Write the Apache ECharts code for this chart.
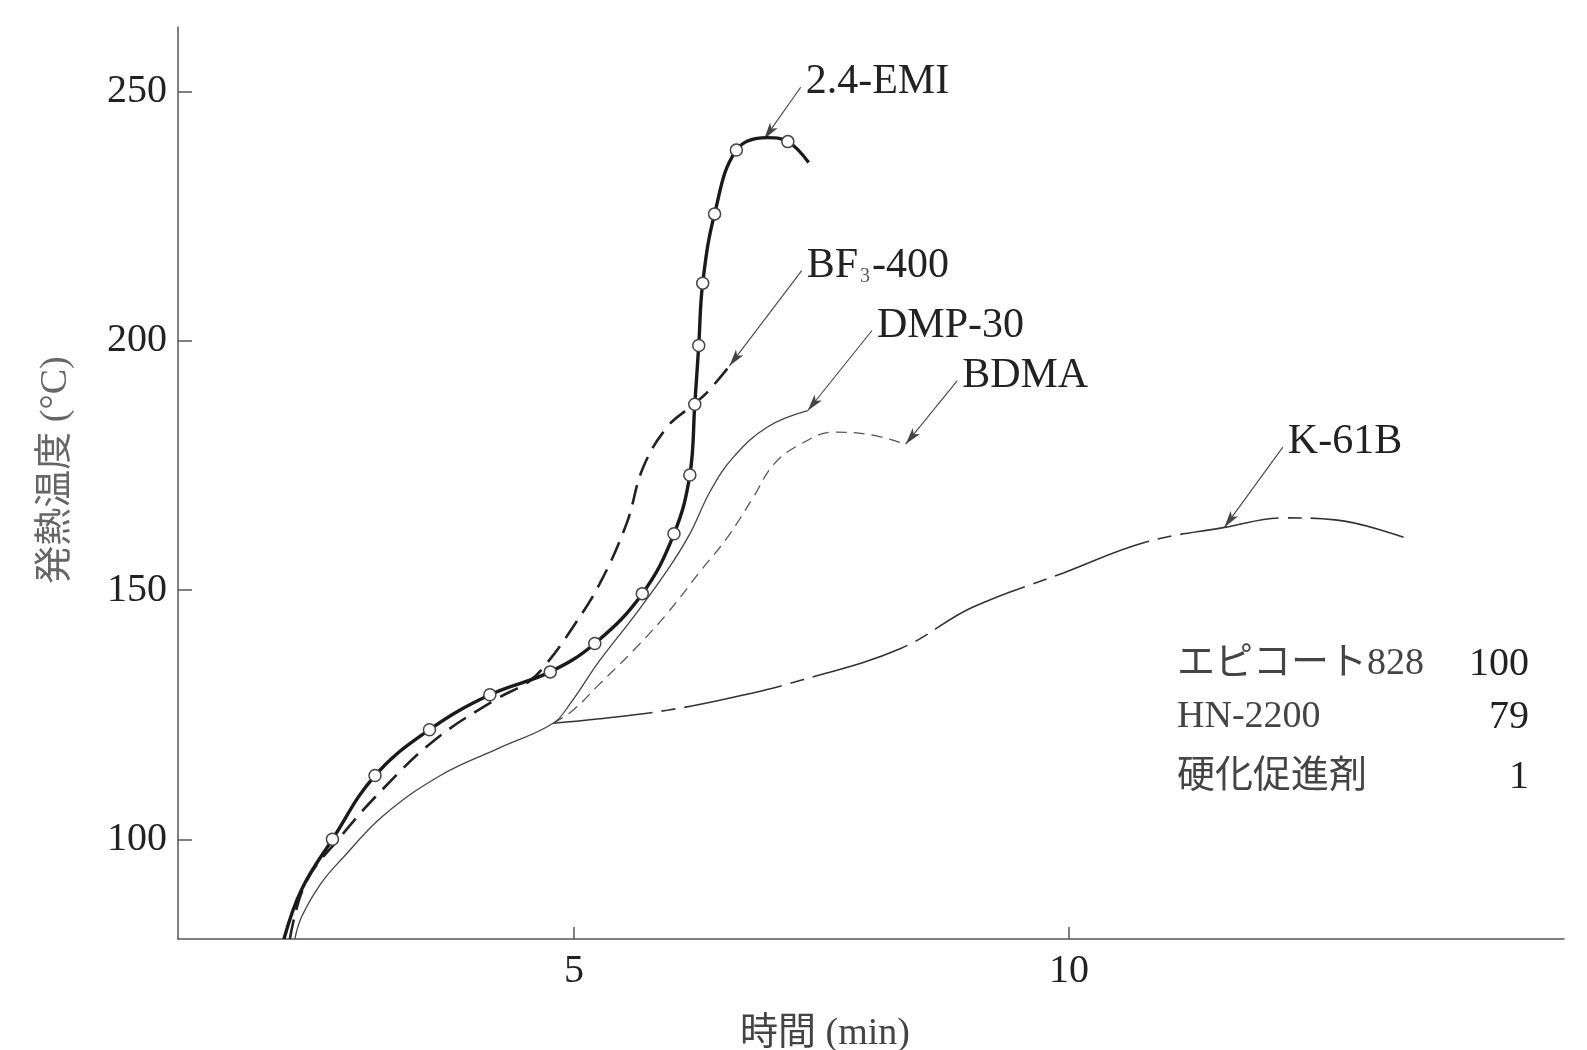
<!DOCTYPE html>
<html>
<head>
<meta charset="utf-8">
<script src="https://cdn.jsdelivr.net/npm/echarts@6/dist/echarts.min.js"></script>
<style>
  html, body { margin: 0; padding: 0; background: #ffffff; }
  #chart { width: 1587px; height: 1050px; }
</style>
</head>
<body>
<div id="chart"></div>
<script>
// Exotherm curves of an epoxy system with different accelerators: time (min) vs. temperature (°C)

// 2.4-EMI: curve points and the measured points drawn as open circles
const emiCurve = [
  [2.07, 80], [2.25, 90], [2.56, 100], [2.99, 112.8], [3.54, 122.0], [4.15, 129.0],
  [4.76, 133.6], [5.21, 139.3], [5.69, 149.3], [6.01, 161.3], [6.17, 173.1],
  [6.22, 187.3], [6.26, 199.1], [6.30, 211.6], [6.42, 225.5], [6.64, 238.3],
  [6.95, 240.8], [7.16, 240.0], [7.37, 235.8]
];
const emiMarkers = [
  [2.56, 100], [2.99, 112.8], [3.54, 122.0], [4.15, 129.0], [4.76, 133.6],
  [5.21, 139.3], [5.69, 149.3], [6.01, 161.3], [6.17, 173.1], [6.22, 187.3],
  [6.26, 199.1], [6.30, 211.6], [6.42, 225.5], [6.64, 238.3], [7.16, 240.0]
];
const bf3Curve = [
  [2.13, 80], [2.29, 91.3], [2.62, 100], [3.07, 110.1], [3.61, 120.2], [4.23, 128.3],
  [4.54, 131.6], [4.72, 135.2], [4.99, 142.6], [5.26, 151.3], [5.53, 163.3],
  [5.70, 174.7], [5.94, 182.7], [6.17, 186.7], [6.34, 189.6], [6.57, 195.0]
];
const dmpCurve = [
  [2.18, 80], [2.25, 84.5], [2.45, 91.3], [2.68, 96.6], [3.07, 104.7], [3.65, 112.8],
  [4.23, 118.2], [4.79, 123.3], [4.96, 127.2], [5.26, 135.9], [5.60, 144.6],
  [5.94, 153.9], [6.17, 161.3], [6.38, 170.0], [6.61, 176.7], [6.95, 182.7], [7.36, 186.0]
];
const bdmaCurve = [
  [4.79, 123.3], [4.99, 125.9], [5.26, 131.2], [5.60, 137.9], [5.94, 145.3],
  [6.28, 153.9], [6.55, 160.6], [6.81, 168.6], [7.02, 175.3], [7.29, 179.3],
  [7.62, 181.7], [7.96, 181.3], [8.35, 179.3]
];
const k61bCurve = [
  [4.79, 123.3], [5.26, 124.2], [5.94, 125.9], [6.61, 128.5], [7.29, 131.9],
  [8.30, 138.3], [9.02, 146.5], [9.95, 153.5], [10.77, 159.6], [11.57, 162.6],
  [12.18, 164.5], [12.69, 164.1], [13.38, 160.6]
];

const xTicks = [5, 10];
const yTicks = [100, 150, 200, 250];

// Formulation (parts by weight)
const recipeNames = ['エピコート828', 'HN-2200', '硬化促進剤'];
const recipeParts = ['100', '79', '1'];

// Callout labels: leader from label anchor to the curve (data coordinates)
const callouts = [
  { series: '2.4-EMI', text: '2.4-EMI', from: [7.29, 250.9], to: [6.92, 240.5] },
  { series: 'BF3-400', text: 'BF{s|3}-400', from: [7.30, 214.1], to: [6.57, 195.0] },
  { series: 'DMP-30', text: 'DMP-30', from: [8.01, 202.1], to: [7.36, 186.0] },
  { series: 'BDMA', text: 'BDMA', from: [8.87, 192.0], to: [8.35, 179.3] },
  { series: 'K-61B', text: 'K-61B', from: [12.16, 178.7], to: [11.57, 162.6] }
];

const serif = '"Liberation Serif", "Noto Sans CJK JP", serif';
const ink = '#222';
const axisColor = '#555';

function leader(name) {
  const c = callouts.find(function (d) { return d.series === name; });
  return {
    silent: true,
    animation: false,
    symbol: ['none', 'arrow'],
    label: { show: false },
    lineStyle: { color: '#444', width: 1.1, type: 'solid' },
    data: [[
      { coord: c.from, symbol: 'none' },
      { coord: c.to, symbol: 'arrow', symbolSize: [7, 17] }
    ]]
  };
}

function curve(name, data, lineStyle, z) {
  return {
    name: name,
    type: 'line',
    data: data,
    smooth: 0.4,
    showSymbol: false,
    symbol: 'none',
    z: z,
    lineStyle: Object.assign({ color: ink }, lineStyle),
    markLine: leader(name)
  };
}

const chart = echarts.init(document.getElementById('chart'), null, { renderer: 'canvas' });

chart.setOption({
  animation: false,
  backgroundColor: '#ffffff',
  grid: { left: 178, right: 23, top: 27, bottom: 111, containLabel: false },
  xAxis: {
    type: 'value',
    min: 1,
    max: 15,
    axisLine: { onZero: false, lineStyle: { color: axisColor, width: 1.5 } },
    axisTick: { show: true, inside: true, length: 12, customValues: xTicks,
                lineStyle: { color: axisColor, width: 1.5 } },
    axisLabel: { customValues: xTicks, fontFamily: serif, fontSize: 40, color: ink, margin: 12 },
    splitLine: { show: false }
  },
  yAxis: {
    type: 'value',
    min: 80,
    max: 263,
    axisLine: { show: true, onZero: false, lineStyle: { color: axisColor, width: 1.5 } },
    axisTick: { show: true, inside: true, length: 14, customValues: yTicks,
                lineStyle: { color: axisColor, width: 1.5 } },
    axisLabel: { customValues: yTicks, fontFamily: serif, fontSize: 40, color: ink, margin: 11 },
    splitLine: { show: false }
  },
  series: [
    curve('K-61B', k61bCurve, { width: 1.6, color: '#333', type: [100, 9, 14, 9] }, 2),
    curve('BDMA', bdmaCurve, { width: 1.3, color: '#555', type: [11, 7] }, 2),
    curve('DMP-30', dmpCurve, { width: 1.3, color: '#444' }, 3),
    curve('BF3-400', bf3Curve, { width: 2.6, color: '#222', type: [20, 10] }, 4),
    curve('2.4-EMI', emiCurve, { width: 3.4, color: '#1a1a1a' }, 5),
    {
      name: '2.4-EMI points',
      type: 'scatter',
      data: emiMarkers,
      symbol: 'circle',
      symbolSize: 12,
      z: 6,
      itemStyle: { color: '#ffffff', borderColor: '#444', borderWidth: 1.5, opacity: 1 }
    }
  ]
});

// Text overlays: axis titles, callout labels and the formulation table
const graphics = [];

graphics.push({
  type: 'text',
  x: 56, y: 470,
  rotation: Math.PI / 2,
  style: {
    text: '発熱温度 (°C)',
    font: '38px ' + serif,
    fill: '#666',
    textAlign: 'center',
    textVerticalAlign: 'middle'
  }
});
graphics.push({
  type: 'text',
  x: 825, y: 1034,
  style: {
    text: '時間 (min)',
    font: '38px ' + serif,
    fill: '#444',
    textAlign: 'center',
    textVerticalAlign: 'middle'
  }
});

callouts.forEach(function (c) {
  const p = chart.convertToPixel({ gridIndex: 0 }, c.from);
  graphics.push({
    type: 'text',
    x: p[0] + 5, y: p[1] - 5,
    style: {
      text: c.text,
      font: '42px ' + serif,
      fill: ink,
      textAlign: 'left',
      textVerticalAlign: 'middle',
      rich: { s: { fontSize: 20, fontFamily: serif, fill: '#555', verticalAlign: 'bottom', padding: [14, 2, 0, 2] } }
    }
  });
});

const rowY = [664, 717, 777];
recipeNames.forEach(function (n, i) {
  graphics.push({
    type: 'text', x: 1177, y: rowY[i],
    style: { text: n, font: '38px ' + serif, fill: '#444', textAlign: 'left', textVerticalAlign: 'middle' }
  });
  graphics.push({
    type: 'text', x: 1529, y: rowY[i],
    style: { text: recipeParts[i], font: '40px ' + serif, fill: ink, textAlign: 'right', textVerticalAlign: 'middle' }
  });
});

chart.setOption({ graphic: graphics });
</script>
</body>
</html>
